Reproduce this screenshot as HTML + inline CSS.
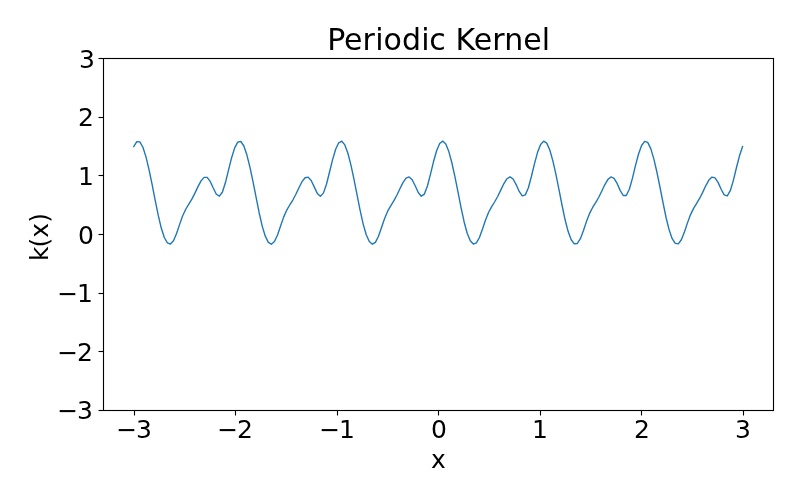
<!DOCTYPE html>
<html lang="en">
<head>
<meta charset="utf-8">
<title>Periodic Kernel</title>
<style>
html,body{margin:0;padding:0;background:#fff;}
body{width:800px;height:500px;overflow:hidden;}
svg{display:block;}
text{font-family:"DejaVu Sans","Liberation Sans",sans-serif;fill:#000;}
.tick{font-size:25.0px;}
.title{font-size:30.0px;}
.ax{stroke:#000;stroke-width:1.111;fill:none;}
</style>
</head>
<body>
<svg width="800" height="500" viewBox="0 0 800 500">
<rect x="0" y="0" width="800" height="500" fill="#ffffff"/>
<path d="M133.73 146.63 L136.79 141.68 L139.85 141.87 L142.91 147.24 L145.97 156.91 L149.03 169.67 L152.09 184.43 L155.15 200.08 L158.21 215.17 L161.26 228.04 L164.32 237.49 L167.38 242.94 L170.44 244.07 L173.50 240.73 L176.56 233.53 L179.62 224.40 L182.68 215.82 L185.74 209.24 L188.80 204.19 L191.86 199.14 L194.92 193.16 L197.98 186.62 L201.04 180.86 L204.10 177.38 L207.16 177.43 L210.21 181.42 L213.27 188.06 L216.33 194.22 L219.39 196.20 L222.45 191.99 L225.51 182.32 L228.57 169.89 L231.63 157.67 L234.69 147.90 L237.75 142.16 L240.81 141.47 L243.87 146.01 L246.93 155.05 L249.99 167.38 L253.05 181.87 L256.11 197.47 L259.17 212.76 L262.22 226.11 L265.28 236.18 L268.34 242.32 L271.40 244.19 L274.46 241.58 L277.52 234.93 L280.58 225.95 L283.64 217.13 L286.70 210.20 L289.76 204.99 L292.82 200.04 L295.88 194.22 L298.94 187.70 L302.00 181.70 L305.06 177.74 L308.12 177.14 L311.18 180.51 L314.23 186.89 L317.29 193.39 L320.35 196.28 L323.41 193.13 L326.47 184.21 L329.53 172.02 L332.59 159.58 L335.65 149.28 L338.71 142.79 L341.77 141.21 L344.83 144.91 L347.89 153.28 L350.95 165.14 L354.01 179.35 L357.07 194.84 L360.13 210.30 L363.18 224.08 L366.24 234.77 L369.30 241.59 L372.36 244.19 L375.42 242.33 L378.48 236.27 L381.54 227.50 L384.60 218.49 L387.66 211.21 L390.72 205.80 L393.78 200.91 L396.84 195.26 L399.90 188.79 L402.96 182.60 L406.02 178.19 L409.08 176.97 L412.14 179.69 L415.19 185.72 L418.25 192.46 L421.31 196.19 L424.37 194.09 L427.43 186.01 L430.49 174.15 L433.55 161.56 L436.61 150.77 L439.67 143.55 L442.73 141.11 L445.79 143.95 L448.85 151.61 L451.91 162.98 L454.97 176.86 L458.03 192.22 L461.09 207.80 L464.14 221.97 L467.20 233.24 L470.26 240.73 L473.32 244.06 L476.38 242.95 L479.44 237.52 L482.50 229.05 L485.56 219.91 L488.62 212.27 L491.68 206.62 L494.74 201.75 L497.80 196.27 L500.86 189.89 L503.92 183.55 L506.98 178.74 L510.04 176.91 L513.10 178.96 L516.15 184.57 L519.21 191.45 L522.27 195.92 L525.33 194.89 L528.39 187.70 L531.45 176.26 L534.51 163.59 L537.57 152.36 L540.63 144.45 L543.69 141.15 L546.75 143.11 L549.81 150.04 L552.87 160.88 L555.93 174.42 L558.99 189.61 L562.05 205.25 L565.10 219.78 L568.16 231.61 L571.22 239.77 L574.28 243.81 L577.34 243.45 L580.40 238.69 L583.46 230.58 L586.52 221.37 L589.58 213.39 L592.64 207.46 L595.70 202.58 L598.76 197.26 L601.82 190.98 L604.88 184.54 L607.94 179.37 L611.00 176.96 L614.06 178.34 L617.11 183.46 L620.17 190.36 L623.23 195.50 L626.29 195.51 L629.35 189.27 L632.41 178.33 L635.47 165.67 L638.53 154.05 L641.59 145.47 L644.65 141.34 L647.71 142.42 L650.77 148.58 L653.83 158.85 L656.89 172.02 L659.95 187.01 L663.01 202.68 L666.07 217.51 L669.12 229.87 L672.18 238.69 L675.24 243.43 L678.30 243.82 L681.36 239.76 L684.42 232.08 L687.48 222.87 L690.54 214.58 L693.60 208.33 L696.66 203.39 L699.72 198.22 L702.78 192.08 L705.84 185.56 L708.90 180.08 L711.96 177.11 L715.02 177.83 L718.07 182.40 L721.13 189.23 L724.19 194.93 L727.25 195.95 L730.31 190.70 L733.37 180.36 L736.43 167.77 L739.49 155.82 L742.55 146.63" fill="none" stroke="#1f77b4" stroke-width="1.389" stroke-linejoin="round" stroke-linecap="square"/>
<g class="ax">
<line x1="134.5" y1="410.5" x2="134.5" y2="415.5"/>
<line x1="235.5" y1="410.5" x2="235.5" y2="415.5"/>
<line x1="337.5" y1="410.5" x2="337.5" y2="415.5"/>
<line x1="438.5" y1="410.5" x2="438.5" y2="415.5"/>
<line x1="540.5" y1="410.5" x2="540.5" y2="415.5"/>
<line x1="641.5" y1="410.5" x2="641.5" y2="415.5"/>
<line x1="743.5" y1="410.5" x2="743.5" y2="415.5"/>
<line x1="98.5" y1="58.5" x2="103.5" y2="58.5"/>
<line x1="98.5" y1="117.5" x2="103.5" y2="117.5"/>
<line x1="98.5" y1="175.5" x2="103.5" y2="175.5"/>
<line x1="98.5" y1="234.5" x2="103.5" y2="234.5"/>
<line x1="98.5" y1="293.5" x2="103.5" y2="293.5"/>
<line x1="98.5" y1="351.5" x2="103.5" y2="351.5"/>
<line x1="98.5" y1="410.5" x2="103.5" y2="410.5"/>
<rect x="103.5" y="58.5" width="670" height="352"/>
</g>
<g class="tick">
<text id="xt-3" x="116.25 135.94" y="438.21">−3</text>
<text id="xt-2" x="217.29 237.12" y="438.21">−2</text>
<text id="xt-1" x="319.20 339.03" y="438.25">−1</text>
<text id="xt0" x="430.91" y="438.19">0</text>
<text id="xt1" x="531.89" y="438.29">1</text>
<text id="xt2" x="634.03" y="438.25">2</text>
<text id="xt3" x="735.03" y="438.24">3</text>
<text id="yt3" x="79.08" y="68.48">3</text>
<text id="yt2" x="78.06" y="126.05">2</text>
<text id="yt1" x="77.88" y="184.66">1</text>
<text id="yt0" x="77.90" y="244.12">0</text>
<text id="yt-1" x="57.13 76.94" y="301.75">−1</text>
<text id="yt-2" x="57.23 77.05" y="361.27">−2</text>
<text id="yt-3" x="57.15 77.08" y="418.84">−3</text>
<text id="xlabel" x="430.99" y="468.00">x</text>
<text id="ylabel" transform="translate(47.99 237.06) rotate(-90)" x="-23.84 -10.40 -0.80 14.20" y="0">k(x)</text>
</g>
<text id="title" class="title" x="327.23 344.11 362.46 375.21 383.55 401.92 421.16 429.37 446.22 455.48 473.85 492.23 504.37 523.29 541.83" y="50.01">Periodic Kernel</text>
</svg>
</body>
</html>
